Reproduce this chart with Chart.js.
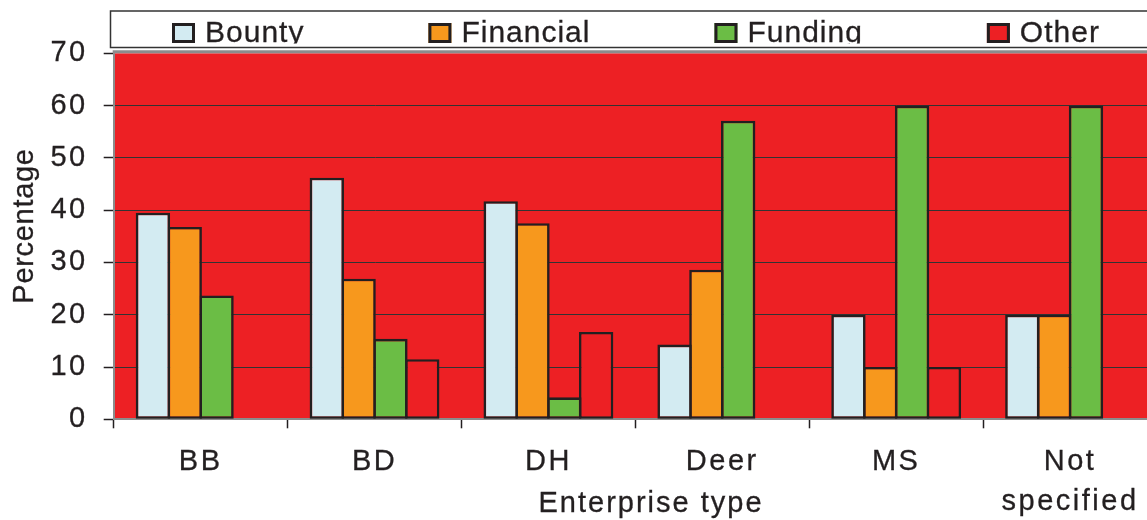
<!DOCTYPE html>
<html>
<head>
<meta charset="utf-8">
<script src="https://cdn.jsdelivr.net/npm/chart.js@4.4.1/dist/chart.umd.min.js"></script>
<style>
  html, body { margin: 0; padding: 0; background: #fff; overflow: hidden; }
  #wrap { position: relative; width: 1157px; height: 520px; }
</style>
</head>
<body>
<div id="wrap"><canvas id="chart"></canvas></div>
<script>
const categories = ['BB', 'BD', 'DH', 'Deer', 'MS', ['Not', 'specified']];
const bounty = [39.5, 46.2, 41.7, 14.3, 20, 20];
const financial = [36.8, 26.9, 37.5, 28.6, 10, 20];
const funding = [23.7, 15.4, 4.2, 57.1, 60, 60];
const other = [0, 11.5, 16.7, 0, 10, 0];
const yTicks = [0, 10, 20, 30, 40, 50, 60, 70];

const ink = '#231F20';
const font = 'Arial, "Liberation Sans", sans-serif';
const textStroke = 0.3;

function heavyText(ctx, text, x, y) {
    ctx.strokeText(text, x, y);
    ctx.fillText(text, x, y);
}

// red plot background, grey frame, boxed legend and the axis titles
const frame = {
    id: 'frame',
    beforeDraw(chart) {
        const { ctx, chartArea: a } = chart;
        ctx.save();
        ctx.fillStyle = '#ED2024';
        ctx.fillRect(a.left, a.top, a.right - a.left, a.bottom - a.top);
        ctx.restore();
        ctx.letterSpacing = '2.5px';
    },
    afterDraw(chart) {
        const { ctx, chartArea: a } = chart;
        ctx.save();
        ctx.strokeStyle = '#8c8c8c';
        ctx.lineWidth = 3;
        ctx.beginPath();
        ctx.moveTo(a.left - 1, a.top - 1.5);
        ctx.lineTo(chart.width, a.top - 1.5);
        ctx.stroke();

        // legend box
        ctx.fillStyle = '#fff';
        ctx.fillRect(110.5, 11, chart.width, 36.5);
        ctx.strokeStyle = '#333';
        ctx.lineWidth = 1.5;
        ctx.strokeRect(110.5, 11, chart.width, 36.5);

        ctx.save();
        ctx.beginPath();
        ctx.rect(111, 12, chart.width, 31.5);
        ctx.clip();
        ctx.font = '30px ' + font;
        ctx.letterSpacing = '1px';
        ctx.textBaseline = 'alphabetic';
        let x = 172;
        chart.data.datasets.forEach(ds => {
            ctx.fillStyle = ds.backgroundColor;
            ctx.fillRect(x, 23, 23, 20);
            ctx.strokeStyle = ink;
            ctx.lineWidth = 3;
            ctx.strokeRect(x + 1.5, 24.5, 20, 17);
            ctx.fillStyle = ink;
            ctx.lineWidth = textStroke;
            heavyText(ctx, ds.label, x + 33, 41.7);
            x += 33 + ctx.measureText(ds.label).width + 124;
        });
        ctx.restore();

        ctx.fillStyle = ink;
        ctx.strokeStyle = ink;
        ctx.lineWidth = textStroke;
        ctx.textAlign = 'center';
        ctx.textBaseline = 'alphabetic';

        // x axis title
        ctx.font = '29px ' + font;
        ctx.letterSpacing = '2px';
        heavyText(ctx, 'Enterprise type', 651, 512);

        // y axis title
        ctx.save();
        ctx.translate(33.3, 226);
        ctx.rotate(-Math.PI / 2);
        ctx.letterSpacing = '0.7px';
        heavyText(ctx, 'Percentage', 0, 0);
        ctx.restore();

        ctx.restore();
    }
};

// bars are a little wider than their slot so neighbours share one outline
function bars(label, data, color) {
    return {
        label: label,
        data: data,
        backgroundColor: color,
        borderColor: ink,
        borderWidth: 2.6,
        borderSkipped: false,
        categoryPercentage: 0.732,
        barPercentage: 1.08
    };
}

new Chart(document.getElementById('chart'), {
    type: 'bar',
    data: {
        labels: categories,
        datasets: [
            bars('Bounty', bounty, '#D3EBF2'),
            bars('Financial', financial, '#F7981D'),
            bars('Funding', funding, '#6BBD45'),
            bars('Other', other, '#ED2024')
        ]
    },
    options: {
        responsive: true,
        maintainAspectRatio: false,
        animation: false,
        layout: { padding: { top: 53.3, left: 0, right: 0, bottom: 0 } },
        plugins: {
            legend: { display: false },
            tooltip: { enabled: false }
        },
        scales: {
            x: {
                afterFit: s => { s.height = 100.7; },
                grid: {
                    display: true,
                    drawOnChartArea: false,
                    offset: true,
                    tickLength: 9,
                    tickColor: ink,
                    tickWidth: 1.5
                },
                border: { color: '#8c8c8c', width: 2 },
                ticks: {
                    color: ink,
                    textStrokeColor: ink,
                    textStrokeWidth: textStroke,
                    padding: 13.5,
                    maxRotation: 0,
                    autoSkip: false,
                    font: { family: font, size: 29, lineHeight: 1.38 }
                }
            },
            y: {
                min: 0,
                max: 70,
                afterFit: s => { s.width = 113.7; },
                afterBuildTicks: s => { s.ticks = yTicks.map(v => ({ value: v })); },
                grid: {
                    color: c => (c.tick && c.tick.value === 70) ? 'rgba(0,0,0,0)' : '#333',
                    lineWidth: 1,
                    tickLength: 10,
                    tickColor: ink,
                    tickWidth: 1.5
                },
                border: { color: '#8c8c8c', width: 2 },
                ticks: {
                    color: ink,
                    textStrokeColor: ink,
                    textStrokeWidth: textStroke,
                    padding: 16,
                    font: { family: font, size: 29 }
                },
                title: { display: false }
            }
        }
    },
    plugins: [frame]
});
</script>
</body>
</html>
